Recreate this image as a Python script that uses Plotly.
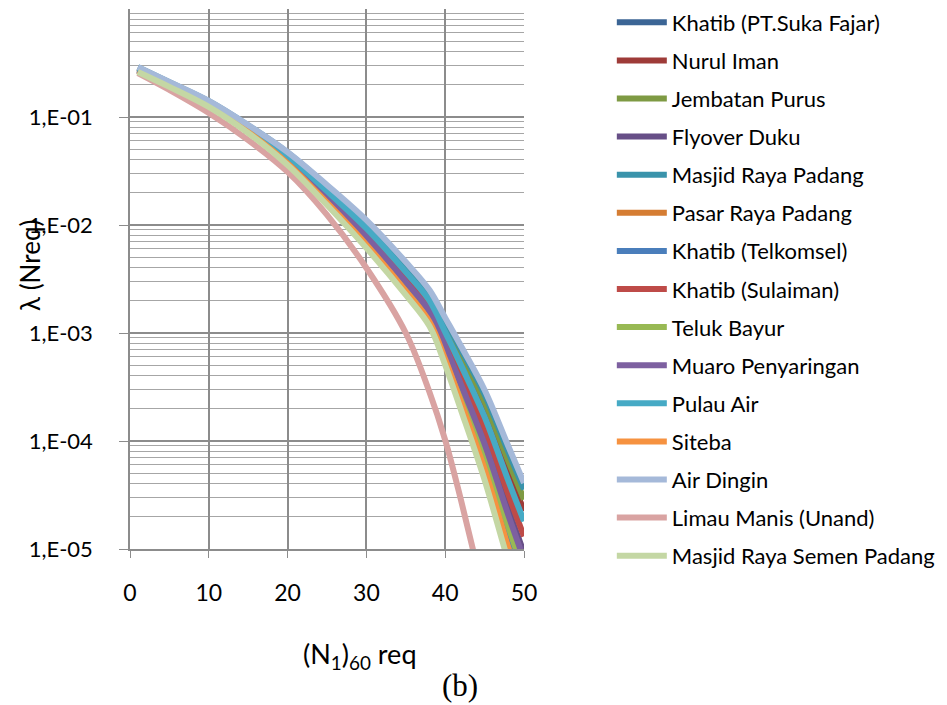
import plotly.graph_objects as go

# (N1)60 req values at which each series is read
n_req = [1, 5, 10, 15, 20, 25, 30, 35, 38, 40, 42, 45, 48, 50]

series_names = [
    "Khatib (PT.Suka Fajar)", "Nurul Iman", "Jembatan Purus", "Flyover Duku",
    "Masjid Raya Padang", "Pasar Raya Padang", "Khatib (Telkomsel)",
    "Khatib (Sulaiman)", "Teluk Bayur", "Muaro Penyaringan", "Pulau Air",
    "Siteba", "Air Dingin", "Limau Manis (Unand)", "Masjid Raya Semen Padang",
]

khatib_suka_fajar = [0.271, 0.197, 0.129, 0.0755, 0.0396, 0.0178, 7.55e-3, 2.87e-3, 1.52e-3, 7.18e-4, 3.13e-4, 8.53e-5, 1.83e-5, 7.03e-6]
nurul_iman = [0.284, 0.206, 0.137, 0.0813, 0.0447, 0.0213, 9.75e-3, 3.89e-3, 2.11e-3, 1.10e-3, 5.62e-4, 1.95e-4, 5.25e-5, 2.25e-5]
jembatan_purus = [0.286, 0.208, 0.138, 0.0824, 0.0457, 0.0222, 1.03e-2, 4.14e-3, 2.26e-3, 1.21e-3, 6.35e-4, 2.31e-4, 6.55e-5, 2.87e-5]
flyover_duku = [0.274, 0.199, 0.131, 0.0767, 0.0407, 0.0185, 8.02e-3, 3.08e-3, 1.64e-3, 7.94e-4, 3.58e-4, 1.03e-4, 2.33e-5, 9.20e-6]
masjid_raya_padang = [0.289, 0.210, 0.140, 0.0836, 0.0468, 0.0230, 1.08e-2, 4.39e-3, 2.40e-3, 1.31e-3, 7.08e-4, 2.69e-4, 7.96e-5, 3.56e-5]
pasar_raya_padang = [0.268, 0.195, 0.128, 0.0741, 0.0386, 0.0170, 7.11e-3, 2.67e-3, 1.41e-3, 6.50e-4, 2.72e-4, 7.03e-5, 1.43e-5, 5.36e-6]
khatib_telkomsel = [0.267, 0.194, 0.127, 0.0736, 0.0380, 0.0167, 6.90e-3, 2.58e-3, 1.36e-3, 6.18e-4, 2.55e-4, 6.40e-5, 1.26e-5, 4.68e-6]
khatib_sulaiman = [0.278, 0.202, 0.133, 0.0785, 0.0423, 0.0196, 8.65e-3, 3.37e-3, 1.81e-3, 9.04e-4, 4.28e-4, 1.32e-4, 3.21e-5, 1.31e-5]
teluk_bayur = [0.270, 0.196, 0.1285, 0.0748, 0.0391, 0.0174, 7.33e-3, 2.77e-3, 1.46e-3, 6.82e-4, 2.92e-4, 7.74e-5, 1.61e-5, 6.14e-6]
muaro_penyaringan = [0.272, 0.198, 0.130, 0.0762, 0.0402, 0.0182, 7.78e-3, 2.97e-3, 1.58e-3, 7.55e-4, 3.34e-4, 9.38e-5, 2.07e-5, 8.04e-6]
pulau_air = [0.281, 0.204, 0.135, 0.0802, 0.0437, 0.0206, 9.29e-3, 3.67e-3, 1.99e-3, 1.02e-3, 5.04e-4, 1.67e-4, 4.31e-5, 1.81e-5]
siteba = [0.265, 0.192, 0.126, 0.0726, 0.0372, 0.0161, 6.58e-3, 2.44e-3, 1.27e-3, 5.70e-4, 2.28e-4, 5.48e-5, 1.04e-5, 3.77e-6]
air_dingin = [0.290, 0.211, 0.141, 0.0843, 0.0474, 0.0235, 1.11e-2, 4.54e-3, 2.50e-3, 1.38e-3, 7.58e-4, 2.97e-4, 8.99e-5, 4.08e-5]
limau_manis = [0.255, 0.178, 0.109, 0.0612, 0.0310, 0.0124, 4.00e-3, 1.00e-3, 2.84e-4, 1.02e-4, 2.84e-5, 3.52e-6, 4.17e-7, 1.0e-7]
masjid_raya_semen_padang = [0.261, 0.190, 0.124, 0.0711, 0.0360, 0.0153, 6.12e-3, 2.25e-3, 1.16e-3, 5.06e-4, 1.94e-4, 4.36e-5, 7.74e-6, 2.72e-6]

series_values = [
    khatib_suka_fajar, nurul_iman, jembatan_purus, flyover_duku,
    masjid_raya_padang, pasar_raya_padang, khatib_telkomsel, khatib_sulaiman,
    teluk_bayur, muaro_penyaringan, pulau_air, siteba, air_dingin,
    limau_manis, masjid_raya_semen_padang,
]

series_colors = [
    "#3B6595", "#9E3B38", "#7E9A43", "#674F87", "#3A93AB", "#D57D33",
    "#4A7EBB", "#BE4B48", "#98B954", "#7D60A0", "#46AAC5", "#F69240",
    "#A5B9D9", "#D9A3A2", "#C4D7A4",
]

y_tick_vals = [1e-5, 1e-4, 1e-3, 1e-2, 1e-1]
y_tick_text = ["1,E-05", "1,E-04", "1,E-03", "1,E-02", "1,E-01"]
x_tick_vals = [0, 10, 20, 30, 40, 50]

FONT = "Lato, 'Open Sans', sans-serif"
GRID = "#8C8C8C"

fig = go.Figure()
for i, (name, vals, col) in enumerate(zip(series_names, series_values, series_colors)):
    fig.add_trace(go.Scatter(
        x=n_req, y=vals, name=name, mode="lines",
        line=dict(color=col, width=6, shape="spline", smoothing=1.0),
        legendgroup=f"g{i}",
    ))

fig.update_layout(
    width=939, height=697,
    margin=dict(l=122, r=423, t=1, b=156, autoexpand=False),
    paper_bgcolor="white", plot_bgcolor="white",
    font=dict(family=FONT, size=22, color="black"),
    showlegend=True,
    legend=dict(
        x=1.2229, y=1.0139, xanchor="left", yanchor="top",
        font=dict(family=FONT, size=22, color="black"),
        tracegroupgap=6.5, itemwidth=50, bgcolor="rgba(0,0,0,0)",
        maxheight=1.0,
    ),
    xaxis=dict(
        range=[0, 50], tickvals=x_tick_vals, showgrid=True, gridcolor=GRID,
        gridwidth=1.5, zeroline=False, showline=True, linecolor=GRID,
        linewidth=1.5, ticks="outside", ticklen=7, tickcolor=GRID,
        ticklabelstandoff=16, tickfont=dict(size=23), mirror=False,
    ),
    yaxis=dict(
        type="log", range=[-5, 0], tickvals=y_tick_vals, ticktext=y_tick_text,
        showgrid=True, gridcolor=GRID, gridwidth=1.5, zeroline=False,
        showline=True, linecolor=GRID, linewidth=1.5, ticks="outside",
        ticklen=9, tickcolor=GRID, ticklabelstandoff=22, tickfont=dict(size=22),
        minor=dict(dtick="D1", showgrid=True, gridcolor="#A6A6A6", gridwidth=1.3, ticks=""),
    ),
    annotations=[
        dict(text="λ (Nreq)", xref="paper", yref="paper", x=-0.2538, y=0.524,
             xanchor="center", yanchor="middle",
             textangle=-90, showarrow=False, font=dict(family=FONT, size=26)),
        dict(text="(N<sub>1</sub>)<sub>60</sub> req", xref="paper", yref="paper",
             x=0.5838, y=-0.1963, xanchor="center", yanchor="middle",
             showarrow=False, font=dict(family=FONT, size=27)),
        dict(text="(b)", xref="paper", yref="paper", x=0.8376, y=-0.2519,
             xanchor="center", yanchor="middle",
             showarrow=False, font=dict(family="Liberation Serif, serif", size=31)),
    ],
)

fig.write_html("out.html")
